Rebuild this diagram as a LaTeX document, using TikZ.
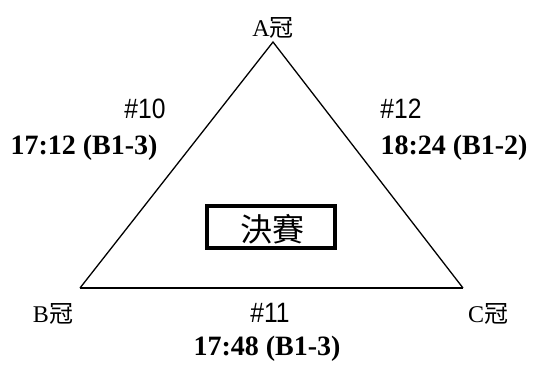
\documentclass[tikz,border=0pt]{standalone}
\usepackage{fontspec}
\setmainfont{Liberation Serif}
\newfontfamily\cjk{Noto Sans CJK TC}
\newfontfamily\narrow[FakeStretch=0.88]{Liberation Sans}
\usetikzlibrary{positioning}

\begin{document}
\begin{tikzpicture}[
			x=1pt, y=-1pt,
			every node/.style={
					inner sep=0pt,
					anchor=base % nodes sit on their baseline
				},
			team/.style={font=\fontsize{24}{24}\selectfont},
			game/.style={font=\narrow\fontsize{28}{28}\selectfont},
			time/.style={font=\bfseries\fontsize{28}{28}\selectfont}
		]
		\useasboundingbox (0, 0) rectangle (536, 365);

		\coordinate (a) at (273, 42);
		\coordinate (b) at (80, 288);
		\coordinate (c) at (463, 288);

		\draw[line width=1.3pt] (b) -- (a) -- (c);
		\draw[line width=2pt] (b) -- (c);

		\node[team] (na) at (273, 36) {A{\cjk 冠}};
		\node[team] (nb) at (53, 322) {B{\cjk 冠}};
		\node[team] (nc) at (488, 322) {C{\cjk 冠}};

		\node[game] (g10) at (145, 118) {\#10};
		\node[game] (g12) at (401, 118) {\#12};
		\node[game] (g11) at (270, 322) {\#11};

		\node[time] (t10) at (84, 154) {17:12 (B1-3)};
		\node[time] (t12) at (454, 154) {18:24 (B1-2)};
		\node[time] (t11) at (267, 355) {17:48 (B1-3)};

		% final box in the middle
		\draw[line width=4pt] (207, 206) rectangle (335, 248);
		\node[font=\cjk\fontsize{32}{32}\selectfont] (final) at (272, 241) {決賽};
	\end{tikzpicture}
\end{document}
